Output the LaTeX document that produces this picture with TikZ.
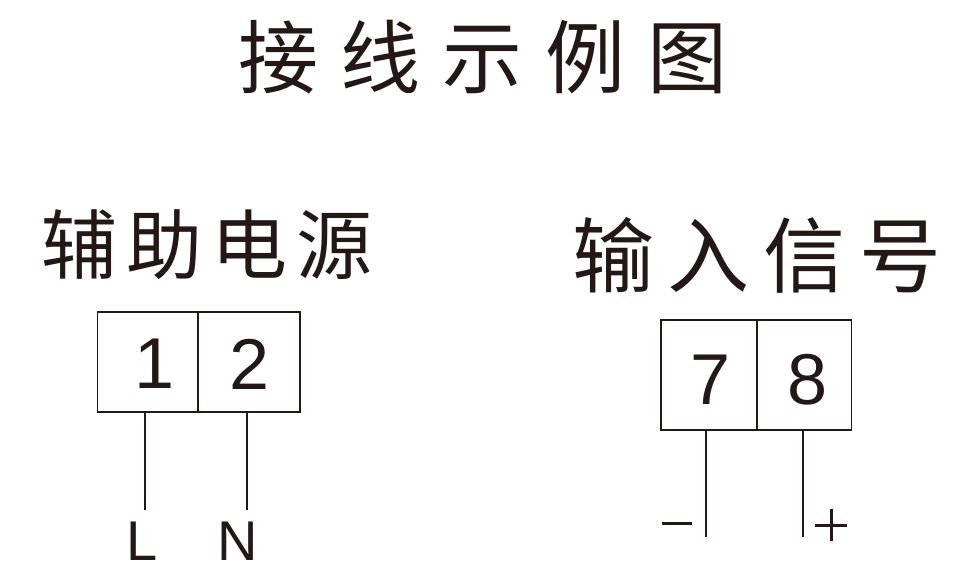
\documentclass[tikz,border=0pt]{standalone}
\usepackage{fontspec}
\newfontfamily\cjk{Noto Sans CJK SC}
\setmainfont{Liberation Sans}
\definecolor{ink}{HTML}{231815}
\begin{document}
\begin{tikzpicture}[x=1pt,y=-1pt,color=ink,line width=1.6pt,
  lbl/.style={inner sep=0pt,anchor=center},
  box/.style={draw,line width=1.6pt,inner sep=0pt}]
\useasboundingbox (0,0) rectangle (966,577);
\node[lbl] (title) at (483,57) {\cjk\fontsize{80}{82}\selectfont\addfontfeature{LetterSpace=28}接线示例图\hspace{-22pt}};
\node[lbl] (h1) at (207,245) {\cjk\fontsize{76}{78}\selectfont\addfontfeature{LetterSpace=12}辅助电源\hspace{-9pt}};
\node[lbl] (h2) at (757,255) {\cjk\fontsize{82}{84}\selectfont\addfontfeature{LetterSpace=17}输入信号\hspace{-14pt}};
\node[box,minimum width=101pt,minimum height=100pt] (b1) at (148,362) {};
\node[box,minimum width=102pt,minimum height=100pt] (b2) at (249,362) {};
\node[box,minimum width=96pt,minimum height=110pt] (b7) at (709,375) {};
\node[box,minimum width=95pt,minimum height=110pt] (b8) at (804,375) {};
\node[lbl] at (155,364) {\fontsize{72}{72}\selectfont 1};
\node[lbl] at (250,364) {\fontsize{72}{72}\selectfont 2};
\node[lbl] at (711,380) {\fontsize{72}{72}\selectfont 7};
\node[lbl] at (808,380) {\fontsize{72}{72}\selectfont 8};
\coordinate (e1) at (145,510);
\coordinate (e2) at (247,510);
\coordinate (e7) at (706,537);
\coordinate (e8) at (803,537);
\draw (b1.south -| e1) -- (e1);
\draw (b2.south -| e2) -- (e2);
\draw (b7.south -| e7) -- (e7);
\draw (b8.south -| e8) -- (e8);
\node[lbl] (L) at (142,541) {\fontsize{56}{56}\selectfont L};
\node[lbl] (N) at (238,541) {\fontsize{56}{56}\selectfont N};
\draw[line width=3pt] (662,523) -- (692,523);
\draw[line width=3pt] (815,525) -- (847,525) (831,509) -- (831,541);
\end{tikzpicture}
\end{document}
